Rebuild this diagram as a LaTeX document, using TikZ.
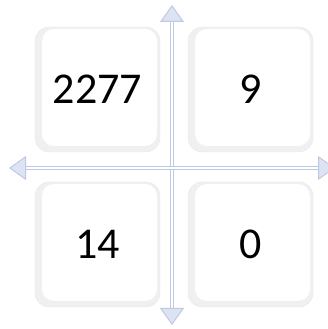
\documentclass[tikz,border=0pt]{standalone}
\usepackage{fontspec}
\setmainfont{Carlito}
\usetikzlibrary{arrows.meta}
\definecolor{axisblue}{HTML}{BFC9E3}
\definecolor{axisfill}{HTML}{DCE3F2}

\begin{document}
\begin{tikzpicture}[x=1pt, y=1pt,
    cell/.style={draw=gray!18, fill=gray!12, rounded corners=14pt, minimum size=125pt, font=\fontsize{44}{44}\selectfont,
        path picture={\fill[white, rounded corners=12pt] ([xshift=7pt,yshift=6pt]path picture bounding box.south west) rectangle ([xshift=-3pt,yshift=-2pt]path picture bounding box.north east);}},
    axis/.style={draw=axisblue, line width=1pt, double=white, double distance=1.6pt, -{Triangle[open, width=24pt, length=17pt, fill=axisfill]}}]
    \useasboundingbox (0,0) rectangle (328,329);

    % Cuadrantes
    \node[cell] (q1) at (97.5,239.5) {2277};
    \node[cell] (q2) at (250.5,239.5) {9};
    \node[cell] (q3) at (97.5,84.5) {14};
    \node[cell] (q4) at (250.5,84.5) {0};

    % Ejes
    \coordinate (ctr) at (172,161);
    \coordinate (top) at (172,324);
    \coordinate (bot) at (172,4);
    \coordinate (lft) at (9,161);
    \coordinate (rgt) at (335,161);
    \draw[axis] (ctr) -- (top);
    \draw[axis] (ctr) -- (bot);
    \draw[axis] (ctr) -- (lft);
    \draw[axis] (ctr) -- (rgt);
\end{tikzpicture}
\end{document}
